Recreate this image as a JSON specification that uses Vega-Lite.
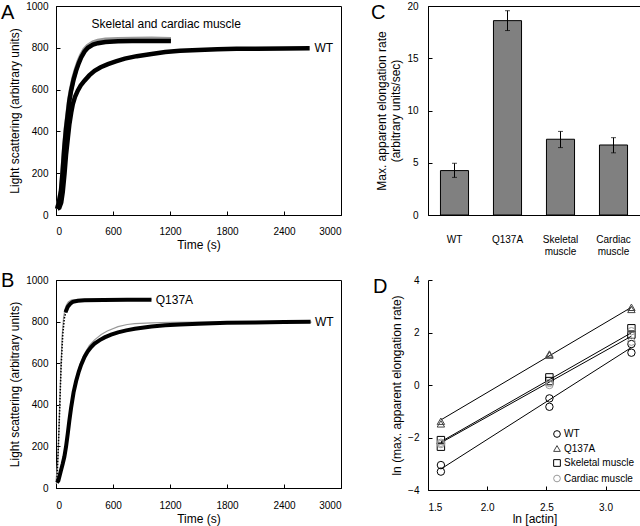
{
  "$schema": "https://vega.github.io/schema/vega-lite/v6.json",
  "background": "white",
  "padding": {"left": 0, "top": 0, "right": 2, "bottom": 2},
  "config": {
    "font": "Liberation Sans",
    "view": {"stroke": "black", "strokeWidth": 1},
    "axis": {"grid": false, "domainColor": "black", "tickColor": "black", "labelColor": "black", "titleColor": "black", "labelFontSize": 10, "titleFontSize": 12, "titleFontWeight": "normal", "tickSize": -4, "labelPadding": 12, "titlePadding": 4},
    "legend": {"labelFontSize": 10, "labelColor": "black"},
    "title": {"fontSize": 20, "fontWeight": "normal", "anchor": "start", "frame": "group", "offset": -22, "baseline": "alphabetic", "color": "black"}
  },
  "datasets": {
    "A": [
      {"series": "WT", "t": 15, "y": 30}, {"series": "WT", "t": 35, "y": 35}, {"series": "WT", "t": 55, "y": 60}, {"series": "WT", "t": 71, "y": 110}, {"series": "WT", "t": 90, "y": 200}, {"series": "WT", "t": 106, "y": 290}, {"series": "WT", "t": 125, "y": 370}, {"series": "WT", "t": 141, "y": 435}, {"series": "WT", "t": 160, "y": 490}, {"series": "WT", "t": 177, "y": 531}, {"series": "WT", "t": 200, "y": 565}, {"series": "WT", "t": 229, "y": 595}, {"series": "WT", "t": 260, "y": 620}, {"series": "WT", "t": 300, "y": 643}, {"series": "WT", "t": 350, "y": 668}, {"series": "WT", "t": 406, "y": 690}, {"series": "WT", "t": 470, "y": 707}, {"series": "WT", "t": 547, "y": 722}, {"series": "WT", "t": 630, "y": 735}, {"series": "WT", "t": 724, "y": 748}, {"series": "WT", "t": 850, "y": 760}, {"series": "WT", "t": 1006, "y": 770}, {"series": "WT", "t": 1150, "y": 780}, {"series": "WT", "t": 1306, "y": 786}, {"series": "WT", "t": 1500, "y": 790}, {"series": "WT", "t": 1700, "y": 793}, {"series": "WT", "t": 1900, "y": 795}, {"series": "WT", "t": 2100, "y": 796}, {"series": "WT", "t": 2400, "y": 797}, {"series": "WT", "t": 2670, "y": 798},
      {"series": "Skeletal", "t": 12, "y": 30}, {"series": "Skeletal", "t": 30, "y": 62}, {"series": "Skeletal", "t": 53, "y": 120}, {"series": "Skeletal", "t": 70, "y": 215}, {"series": "Skeletal", "t": 88, "y": 330}, {"series": "Skeletal", "t": 105, "y": 418}, {"series": "Skeletal", "t": 124, "y": 490}, {"series": "Skeletal", "t": 140, "y": 552}, {"series": "Skeletal", "t": 159, "y": 602}, {"series": "Skeletal", "t": 185, "y": 656}, {"series": "Skeletal", "t": 212, "y": 699}, {"series": "Skeletal", "t": 240, "y": 736}, {"series": "Skeletal", "t": 265, "y": 763}, {"series": "Skeletal", "t": 300, "y": 791}, {"series": "Skeletal", "t": 335, "y": 809}, {"series": "Skeletal", "t": 390, "y": 825}, {"series": "Skeletal", "t": 441, "y": 833}, {"series": "Skeletal", "t": 520, "y": 838}, {"series": "Skeletal", "t": 653, "y": 841}, {"series": "Skeletal", "t": 800, "y": 842}, {"series": "Skeletal", "t": 1006, "y": 843}, {"series": "Skeletal", "t": 1210, "y": 841},
      {"series": "Cardiac", "t": 12, "y": 30}, {"series": "Cardiac", "t": 30, "y": 60}, {"series": "Cardiac", "t": 53, "y": 116}, {"series": "Cardiac", "t": 70, "y": 210}, {"series": "Cardiac", "t": 88, "y": 324}, {"series": "Cardiac", "t": 105, "y": 410}, {"series": "Cardiac", "t": 124, "y": 483}, {"series": "Cardiac", "t": 140, "y": 545}, {"series": "Cardiac", "t": 159, "y": 595}, {"series": "Cardiac", "t": 185, "y": 648}, {"series": "Cardiac", "t": 212, "y": 691}, {"series": "Cardiac", "t": 240, "y": 727}, {"series": "Cardiac", "t": 265, "y": 754}, {"series": "Cardiac", "t": 300, "y": 782}, {"series": "Cardiac", "t": 335, "y": 800}, {"series": "Cardiac", "t": 390, "y": 815}, {"series": "Cardiac", "t": 441, "y": 822}, {"series": "Cardiac", "t": 520, "y": 828}, {"series": "Cardiac", "t": 653, "y": 831}, {"series": "Cardiac", "t": 800, "y": 832}, {"series": "Cardiac", "t": 1006, "y": 833}, {"series": "Cardiac", "t": 1210, "y": 832}
    ],
    "B": [
      {"series": "Q137A rise", "t": 10, "y": 37}, {"series": "Q137A rise", "t": 25, "y": 196}, {"series": "Q137A rise", "t": 39, "y": 386}, {"series": "Q137A rise", "t": 53, "y": 577}, {"series": "Q137A rise", "t": 71, "y": 736}, {"series": "Q137A rise", "t": 88, "y": 816}, {"series": "Q137A rise", "t": 106, "y": 850},
      {"series": "Q137A", "t": 100, "y": 845}, {"series": "Q137A", "t": 124, "y": 871}, {"series": "Q137A", "t": 150, "y": 886}, {"series": "Q137A", "t": 177, "y": 895}, {"series": "Q137A", "t": 230, "y": 900}, {"series": "Q137A", "t": 300, "y": 903}, {"series": "Q137A", "t": 500, "y": 904}, {"series": "Q137A", "t": 750, "y": 905}, {"series": "Q137A", "t": 1005, "y": 905},
      {"series": "Q137A fit", "t": 0, "y": 30}, {"series": "Q137A fit", "t": 15, "y": 110}, {"series": "Q137A fit", "t": 25, "y": 200}, {"series": "Q137A fit", "t": 39, "y": 390}, {"series": "Q137A fit", "t": 53, "y": 590}, {"series": "Q137A fit", "t": 65, "y": 730}, {"series": "Q137A fit", "t": 80, "y": 820}, {"series": "Q137A fit", "t": 95, "y": 860}, {"series": "Q137A fit", "t": 110, "y": 880}, {"series": "Q137A fit", "t": 130, "y": 895}, {"series": "Q137A fit", "t": 160, "y": 903}, {"series": "Q137A fit", "t": 200, "y": 906}, {"series": "Q137A fit", "t": 300, "y": 907}, {"series": "Q137A fit", "t": 1005, "y": 907},
      {"series": "WT", "t": 10, "y": 26}, {"series": "WT", "t": 25, "y": 35}, {"series": "WT", "t": 50, "y": 80}, {"series": "WT", "t": 70, "y": 115}, {"series": "WT", "t": 88, "y": 150}, {"series": "WT", "t": 106, "y": 200}, {"series": "WT", "t": 124, "y": 262}, {"series": "WT", "t": 140, "y": 322}, {"series": "WT", "t": 159, "y": 386}, {"series": "WT", "t": 185, "y": 460}, {"series": "WT", "t": 212, "y": 514}, {"series": "WT", "t": 240, "y": 560}, {"series": "WT", "t": 265, "y": 593}, {"series": "WT", "t": 300, "y": 630}, {"series": "WT", "t": 335, "y": 657}, {"series": "WT", "t": 370, "y": 678}, {"series": "WT", "t": 406, "y": 694}, {"series": "WT", "t": 460, "y": 711}, {"series": "WT", "t": 512, "y": 724}, {"series": "WT", "t": 580, "y": 737}, {"series": "WT", "t": 653, "y": 748}, {"series": "WT", "t": 740, "y": 758}, {"series": "WT", "t": 830, "y": 766}, {"series": "WT", "t": 1006, "y": 776}, {"series": "WT", "t": 1150, "y": 782}, {"series": "WT", "t": 1306, "y": 786}, {"series": "WT", "t": 1500, "y": 790}, {"series": "WT", "t": 1800, "y": 794}, {"series": "WT", "t": 2100, "y": 796}, {"series": "WT", "t": 2400, "y": 798}, {"series": "WT", "t": 2680, "y": 799},
      {"series": "WT fit", "t": 0, "y": 20}, {"series": "WT fit", "t": 30, "y": 42}, {"series": "WT fit", "t": 60, "y": 90}, {"series": "WT fit", "t": 90, "y": 160}, {"series": "WT fit", "t": 120, "y": 250}, {"series": "WT fit", "t": 150, "y": 350}, {"series": "WT fit", "t": 180, "y": 445}, {"series": "WT fit", "t": 212, "y": 520}, {"series": "WT fit", "t": 250, "y": 590}, {"series": "WT fit", "t": 300, "y": 645}, {"series": "WT fit", "t": 350, "y": 684}, {"series": "WT fit", "t": 406, "y": 712}, {"series": "WT fit", "t": 476, "y": 738}, {"series": "WT fit", "t": 540, "y": 755}, {"series": "WT fit", "t": 653, "y": 776}, {"series": "WT fit", "t": 750, "y": 786}, {"series": "WT fit", "t": 830, "y": 790}, {"series": "WT fit", "t": 1006, "y": 794}, {"series": "WT fit", "t": 1200, "y": 796}, {"series": "WT fit", "t": 1500, "y": 797}, {"series": "WT fit", "t": 2690, "y": 797}
    ],
    "C": [
      {"group": "WT", "rate": 4.25, "lo": 3.6, "hi": 4.95},
      {"group": "Q137A", "rate": 18.6, "lo": 17.65, "hi": 19.55},
      {"group": "Skeletal muscle", "rate": 7.25, "lo": 6.45, "hi": 8.0},
      {"group": "Cardiac muscle", "rate": 6.7, "lo": 5.95, "hi": 7.4}
    ],
    "D": [
      {"series": "WT", "x": 1.609, "y": -3.05}, {"series": "WT", "x": 1.609, "y": -3.3}, {"series": "WT", "x": 2.526, "y": -0.51}, {"series": "WT", "x": 2.526, "y": -0.83}, {"series": "WT", "x": 3.219, "y": 1.56}, {"series": "WT", "x": 3.219, "y": 1.23},
      {"series": "Q137A", "x": 1.609, "y": -1.38}, {"series": "Q137A", "x": 1.609, "y": -1.48}, {"series": "Q137A", "x": 2.526, "y": 1.18}, {"series": "Q137A", "x": 2.526, "y": 1.14}, {"series": "Q137A", "x": 3.219, "y": 2.96}, {"series": "Q137A", "x": 3.219, "y": 2.88},
      {"series": "Skeletal muscle", "x": 1.609, "y": -2.1}, {"series": "Skeletal muscle", "x": 1.609, "y": -2.35}, {"series": "Skeletal muscle", "x": 2.526, "y": 0.29}, {"series": "Skeletal muscle", "x": 2.526, "y": 0.15}, {"series": "Skeletal muscle", "x": 3.219, "y": 2.16}, {"series": "Skeletal muscle", "x": 3.219, "y": 1.92},
      {"series": "Cardiac muscle", "x": 1.609, "y": -2.2}, {"series": "Cardiac muscle", "x": 1.609, "y": -2.25}, {"series": "Cardiac muscle", "x": 2.526, "y": 0.0}, {"series": "Cardiac muscle", "x": 2.526, "y": 0.08}, {"series": "Cardiac muscle", "x": 3.219, "y": 2.05}, {"series": "Cardiac muscle", "x": 3.219, "y": 1.65}
    ],
    "Dlines": [
      {"series": "Q137A", "x": 1.609, "y": -1.33}, {"series": "Q137A", "x": 3.219, "y": 2.96},
      {"series": "Skeletal muscle", "x": 1.609, "y": -2.16}, {"series": "Skeletal muscle", "x": 3.219, "y": 1.99},
      {"series": "Cardiac muscle", "x": 1.609, "y": -2.2}, {"series": "Cardiac muscle", "x": 3.219, "y": 1.86},
      {"series": "WT", "x": 1.609, "y": -3.2}, {"series": "WT", "x": 3.219, "y": 1.43}
    ]
  },
  "concat": [
    {
      "width": 285, "height": 209,
      "title": {"text": "A", "dx": -55},
      "layer": [
        {"data": {"name": "A"}, "transform": [{"filter": "datum.series === 'Skeletal'"}],
         "mark": {"type": "line", "color": "#9a9a9a", "strokeWidth": 4.5},
         "encoding": {
           "x": {"field": "t", "type": "quantitative", "scale": {"domain": [0, 3000], "nice": false}, "axis": {"values": [0, 600, 1200, 1800, 2400, 3000], "format": "d", "title": "Time (s)", "labelPadding": 15, "titlePadding": 3}},
           "y": {"field": "y", "type": "quantitative", "scale": {"domain": [0, 1000], "nice": false}, "axis": {"values": [0, 200, 400, 600, 800, 1000], "format": "d", "title": "Light scattering (arbitrary units)"}}
         }},
        {"data": {"name": "A"}, "transform": [{"filter": "datum.series !== 'Skeletal'"}],
         "mark": {"type": "line", "color": "black", "strokeWidth": 4.5},
         "encoding": {
           "x": {"field": "t", "type": "quantitative"},
           "y": {"field": "y", "type": "quantitative"},
           "detail": {"field": "series"}
         }},
        {"data": {"values": [{}]},
         "mark": {"type": "text", "fontSize": 12, "align": "center", "baseline": "middle", "color": "black"},
         "encoding": {"x": {"datum": 1160}, "y": {"datum": 914}, "text": {"value": "Skeletal and cardiac muscle"}}},
        {"data": {"values": [{}]},
         "mark": {"type": "text", "fontSize": 12, "align": "left", "baseline": "middle", "color": "black"},
         "encoding": {"x": {"datum": 2720}, "y": {"datum": 797}, "text": {"value": "WT"}}}
      ]
    },
    {
      "width": 212, "height": 209,
      "title": {"text": "C", "dx": -57},
      "data": {"name": "C"},
      "layer": [
        {"mark": {"type": "bar", "color": "#808080", "stroke": "black", "strokeWidth": 1},
         "encoding": {
           "x": {"field": "group", "type": "nominal", "sort": null, "scale": {"paddingInner": 0.47, "paddingOuter": 0.235}, "axis": {"title": null, "labelAngle": 0, "ticks": false, "domain": false, "labelPadding": 19, "labelExpr": "split(datum.label, ' ')"}},
           "y": {"field": "rate", "type": "quantitative", "scale": {"domain": [0, 20], "nice": false}, "axis": {"values": [0, 5, 10, 15, 20], "title": ["Max. apparent elongation rate", "(arbitrary units/sec)"], "labelPadding": 14}}
         }},
        {"mark": {"type": "rule", "color": "black", "strokeWidth": 1},
         "encoding": {"x": {"field": "group", "type": "nominal", "sort": null}, "y": {"field": "lo", "type": "quantitative"}, "y2": {"field": "hi"}}},
        {"mark": {"type": "tick", "color": "black", "size": 5, "thickness": 1},
         "encoding": {"x": {"field": "group", "type": "nominal", "sort": null}, "y": {"field": "lo", "type": "quantitative"}}},
        {"mark": {"type": "tick", "color": "black", "size": 5, "thickness": 1},
         "encoding": {"x": {"field": "group", "type": "nominal", "sort": null}, "y": {"field": "hi", "type": "quantitative"}}}
      ]
    },
    {
      "width": 285, "height": 208,
      "title": {"text": "B", "dx": -55, "offset": -16},
      "layer": [
        {"data": {"name": "B"}, "transform": [{"filter": "datum.series === 'WT fit' || datum.series === 'Q137A fit'"}],
         "mark": {"type": "line", "color": "#999999", "strokeWidth": 1.2},
         "encoding": {
           "x": {"field": "t", "type": "quantitative", "scale": {"domain": [0, 3000], "nice": false}, "axis": {"values": [0, 600, 1200, 1800, 2400, 3000], "format": "d", "title": "Time (s)", "labelPadding": 16, "titlePadding": 3}},
           "y": {"field": "y", "type": "quantitative", "scale": {"domain": [0, 1000], "nice": false}, "axis": {"values": [0, 200, 400, 600, 800, 1000], "format": "d", "title": "Light scattering (arbitrary units)"}},
           "detail": {"field": "series"}
         }},
        {"data": {"name": "B"}, "transform": [{"filter": "datum.series === 'Q137A rise'"}],
         "mark": {"type": "line", "color": "black", "strokeWidth": 1.5, "strokeDash": [1.5, 1.5]},
         "encoding": {
           "x": {"field": "t", "type": "quantitative"},
           "y": {"field": "y", "type": "quantitative"}
         }},
        {"data": {"name": "B"}, "transform": [{"filter": "datum.series === 'WT' || datum.series === 'Q137A'"}],
         "mark": {"type": "line", "color": "black", "strokeWidth": 4},
         "encoding": {
           "x": {"field": "t", "type": "quantitative"},
           "y": {"field": "y", "type": "quantitative"},
           "detail": {"field": "series"}
         }},
        {"data": {"values": [{}]},
         "mark": {"type": "text", "fontSize": 12, "align": "left", "baseline": "middle", "color": "black"},
         "encoding": {"x": {"datum": 1050}, "y": {"datum": 906}, "text": {"value": "Q137A"}}},
        {"data": {"values": [{}]},
         "mark": {"type": "text", "fontSize": 12, "align": "left", "baseline": "middle", "color": "black"},
         "encoding": {"x": {"datum": 2725}, "y": {"datum": 800}, "text": {"value": "WT"}}}
      ]
    },
    {
      "width": 213, "height": 210,
      "title": {"text": "D", "dx": -55, "offset": -22},
      "view": {"stroke": null},
      "layer": [
        {"data": {"name": "Dlines"},
         "mark": {"type": "line", "color": "black", "strokeWidth": 1},
         "encoding": {
           "x": {"field": "x", "type": "quantitative", "scale": {"domain": [1.5, 3.3], "nice": false, "zero": false}, "axis": {"values": [1.5, 2, 2.5, 3], "format": ".1f", "title": "ln [actin]", "labelPadding": 16, "titlePadding": 1}},
           "y": {"field": "y", "type": "quantitative", "scale": {"domain": [-4, 4], "nice": false}, "axis": {"values": [-4, -2, 0, 2, 4], "format": "d", "title": "ln (max. apparent elongation rate)", "labelPadding": 13}},
           "detail": {"field": "series"}
         }},
        {"data": {"name": "D"},
         "mark": {"type": "point", "filled": false, "strokeWidth": 1, "size": 55, "opacity": 1},
         "encoding": {
           "x": {"field": "x", "type": "quantitative"},
           "y": {"field": "y", "type": "quantitative"},
           "shape": {"field": "series", "type": "nominal", "scale": {"domain": ["WT", "Q137A", "Skeletal muscle", "Cardiac muscle"], "range": ["circle", "triangle-up", "square", "circle"]},
                     "legend": {"title": null, "orient": "none", "legendX": 496, "legendY": 423, "padding": 0, "rowPadding": 3.5, "symbolSize": 45, "symbolStrokeWidth": 1, "labelOffset": 2}},
           "color": {"field": "series", "type": "nominal", "scale": {"domain": ["WT", "Q137A", "Skeletal muscle", "Cardiac muscle"], "range": ["black", "#444444", "black", "#9a9a9a"]},
                     "legend": {"title": null, "orient": "none", "legendX": 496, "legendY": 423, "padding": 0, "rowPadding": 3.5, "symbolSize": 45, "symbolStrokeWidth": 1, "labelOffset": 2}}
         }}
      ]
    }
  ],
  "columns": 2,
  "spacing": {"row": 65, "column": 87},
  "bounds": "flush"
}
